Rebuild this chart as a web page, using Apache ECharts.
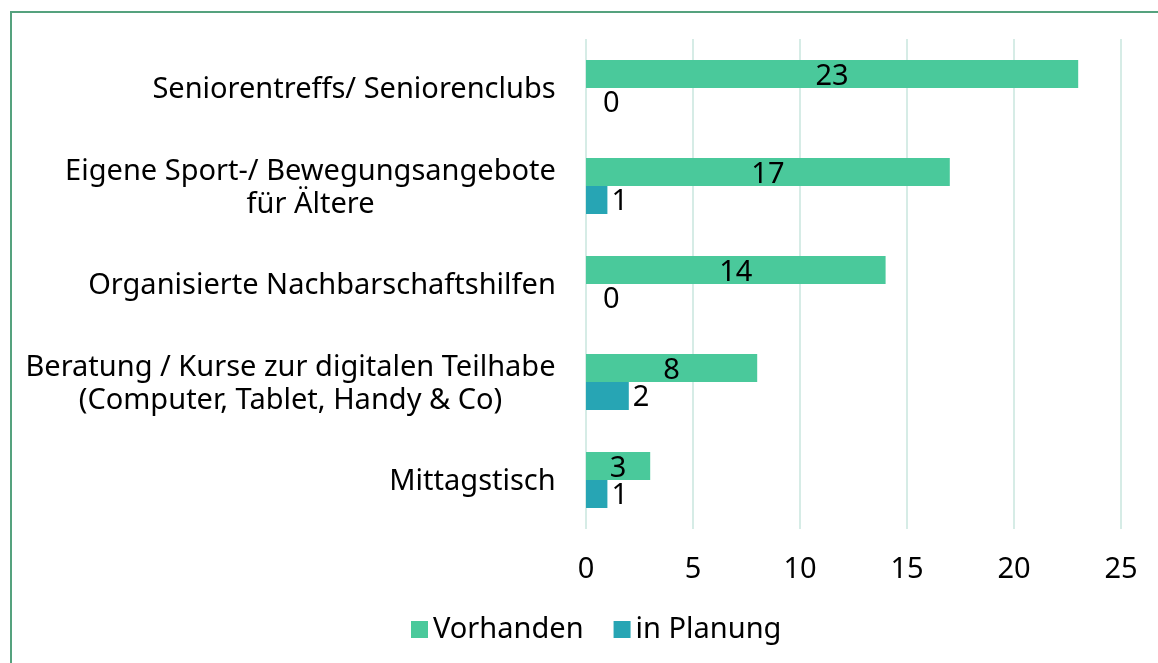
<!DOCTYPE html>
<html>
<head>
<meta charset="utf-8">
<script src="https://cdn.jsdelivr.net/npm/echarts@6/dist/echarts.min.js"></script>
<style>
  html, body { margin: 0; padding: 0; background: #fff; }
  #frame {
    position: absolute; left: 10px; top: 11px; right: -10px; bottom: -10px;
    border-left: 2px solid #55a27e; border-top: 2px solid #55a27e;
  }
  #chart { position: absolute; left: 0; top: 0; width: 1158px; height: 663px; }
</style>
</head>
<body>
<div id="frame"></div>
<div id="chart"></div>
<script>
// Angebote für Ältere
const categories = [
  'Seniorentreffs/ Seniorenclubs',
  'Eigene Sport-/ Bewegungsangebote\nfür Ältere',
  'Organisierte Nachbarschaftshilfen',
  'Beratung / Kurse zur digitalen Teilhabe\n(Computer, Tablet, Handy & Co)',
  'Mittagstisch'
]
const vorhanden = [23, 17, 14, 8, 3]
const inPlanung = [0, 1, 0, 2, 1]
const xTicks = [0, 5, 10, 15, 20, 25]

const FONT = 'Noto Sans'
const FS = 29

// Breite der Zeilen messen, damit mehrzeilige Beschriftungen zentriert stehen
const ctx = document.createElement('canvas').getContext('2d')
ctx.font = FS + 'px "' + FONT + '"'
const rich = {}
categories.forEach((c, i) => {
  const w = Math.max(...c.split('\n').map(l => ctx.measureText(l).width))
  rich['r' + i] = { width: Math.ceil(w) + 2, align: 'center', fontSize: FS, fontFamily: FONT, color: '#000', lineHeight: 33 }
})

const chart = echarts.init(document.getElementById('chart'))
chart.setOption({
  animation: false,
  textStyle: { fontFamily: FONT },
  grid: { left: 586, right: 37, top: 39, bottom: 134 },
  legend: {
    bottom: 14,
    left: 406,
    itemWidth: 17,
    itemHeight: 17,
    itemGap: 30,
    icon: 'rect',
    textStyle: { fontSize: FS, color: '#000', fontFamily: FONT },
    data: ['Vorhanden', 'in Planung']
  },
  xAxis: {
    type: 'value',
    min: xTicks[0],
    max: xTicks[xTicks.length - 1],
    interval: 5,
    axisLine: { show: false },
    axisTick: { show: false },
    splitLine: { lineStyle: { color: '#d6ece6', width: 2 } },
    axisLabel: { fontSize: FS, color: '#000', margin: 26, fontFamily: FONT }
  },
  yAxis: {
    type: 'category',
    inverse: true,
    data: categories,
    axisLine: { show: false },
    axisTick: { show: false },
    axisLabel: {
      margin: 29,
      padding: [4, 0, 0, 0],
      formatter: (v, i) => v.split('\n').map(l => '{r' + i + '|' + l + '}').join('\n'),
      rich: rich
    }
  },
  series: [
    {
      name: 'Vorhanden',
      type: 'bar',
      data: vorhanden,
      barWidth: 28,
      barGap: '0%',
      itemStyle: { color: '#4ac99b' },
      label: { show: true, position: 'inside', color: '#000', fontSize: FS, fontFamily: FONT, offset: [0, 3] }
    },
    {
      name: 'in Planung',
      type: 'bar',
      data: inPlanung.map(v => v === 0 ? { value: v, label: { distance: 17 } } : v),
      barWidth: 28,
      itemStyle: { color: '#27a5b4' },
      label: { show: true, position: 'right', distance: 4, color: '#000', fontSize: FS, fontFamily: FONT, offset: [0, 2] }
    }
  ]
})
</script>
</body>
</html>
